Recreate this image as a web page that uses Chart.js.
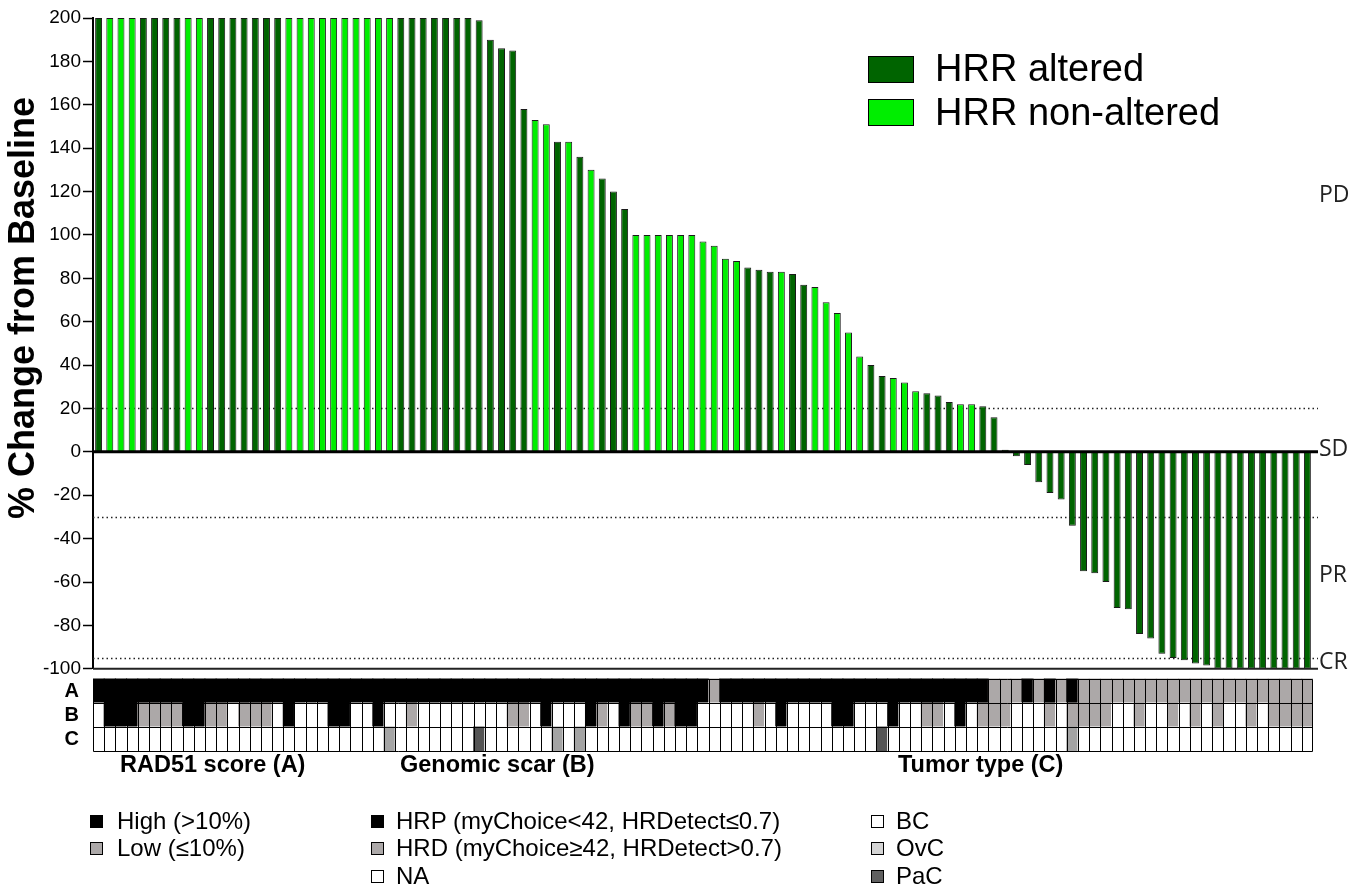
<!DOCTYPE html>
<html>
<head>
<meta charset="utf-8">
<title>Best response waterfall</title>
<script src="https://cdn.jsdelivr.net/npm/chart.js@4.4.1/dist/chart.umd.min.js"></script>
<style>
  html, body { margin: 0; padding: 0; background: #fff; }
  #wrap { position: relative; width: 1366px; height: 896px; overflow: hidden;
          font-family: "Liberation Sans", Arial, sans-serif; color: #000; }
  #chart { position: absolute; left: 0; top: 0; }
  .abs { position: absolute; white-space: nowrap; }
  .big { font-size: 38px; line-height: 40px; }
  .sw-big { position: absolute; width: 44px; height: 25px; border: 1px solid #000; }
  .head { font-size: 23.5px; line-height: 26px; font-weight: bold; }
  .item { font-size: 24px; line-height: 26px; }
  .sw { position: absolute; width: 11px; height: 11px; border: 1px solid #000; }
</style>
</head>
<body>
<div id="wrap">
  <canvas id="chart" width="1366" height="896"></canvas>

  <!-- series legend -->
  <div class="sw-big" style="left:868px;top:56px;background:#006400"></div>
  <div class="abs big" style="left:935px;top:48px">HRR altered</div>
  <div class="sw-big" style="left:868px;top:99px;background:#00ee00"></div>
  <div class="abs big" style="left:935px;top:92px">HRR non-altered</div>

  <!-- annotation track legends -->
  <div class="abs head" style="left:120px;top:751px">RAD51 score (A)</div>
  <div class="sw" style="left:90px;top:815px;background:#000"></div>
  <div class="abs item" style="left:117px;top:808px">High (&gt;10%)</div>
  <div class="sw" style="left:90px;top:842px;background:#aca8a8"></div>
  <div class="abs item" style="left:117px;top:835px">Low (≤10%)</div>

  <div class="abs head" style="left:400px;top:751px">Genomic scar (B)</div>
  <div class="sw" style="left:371px;top:815px;background:#000"></div>
  <div class="abs item" style="left:396px;top:808px">HRP (myChoice&lt;42, HRDetect≤0.7)</div>
  <div class="sw" style="left:371px;top:842px;background:#aca8a8"></div>
  <div class="abs item" style="left:396px;top:835px">HRD (myChoice≥42, HRDetect&gt;0.7)</div>
  <div class="sw" style="left:371px;top:870px;background:#fff"></div>
  <div class="abs item" style="left:396px;top:863px">NA</div>

  <div class="abs head" style="left:898px;top:751px">Tumor type (C)</div>
  <div class="sw" style="left:871px;top:815px;background:#fff"></div>
  <div class="abs item" style="left:896px;top:808px">BC</div>
  <div class="sw" style="left:871px;top:842px;background:#d4d4d4"></div>
  <div class="abs item" style="left:896px;top:835px">OvC</div>
  <div class="sw" style="left:871px;top:870px;background:#606060"></div>
  <div class="abs item" style="left:896px;top:863px">PaC</div>
</div>

<script>
// Best % change from baseline per patient (values above 200 are capped at 200)
const change = [
  200, 200, 200, 200, 200, 200, 200, 200, 200, 200,
  200, 200, 200, 200, 200, 200, 200, 200, 200, 200,
  200, 200, 200, 200, 200, 200, 200, 200, 200, 200,
  200, 200, 200, 200, 199, 190, 186, 185, 158, 153,
  151, 143, 143, 136, 130, 126, 120, 112, 100, 100,
  100, 100, 100, 100, 97, 95, 89, 88, 85, 84,
  83, 83, 82, 77, 76, 69, 64, 55, 44, 40,
  35, 34, 32, 28, 27, 26, 23, 22, 22, 21,
  16, 1, -2, -6, -14, -19, -22, -34, -55, -56,
  -60, -72, -72.5, -84, -86, -93, -95, -96, -97.5, -98.5,
  -100, -100, -100, -100, -100, -100, -100, -100, -100
];

// HRR status per patient: 1 = altered, 0 = non-altered
const hrrAltered = [
  1, 0, 0, 0, 1, 1, 1, 1, 0, 0,
  1, 1, 1, 1, 1, 1, 1, 0, 0, 0,
  0, 0, 0, 0, 0, 0, 0, 1, 1, 1,
  1, 1, 1, 1, 1, 1, 1, 1, 1, 0,
  0, 1, 0, 1, 0, 1, 1, 1, 0, 0,
  0, 0, 0, 0, 0, 0, 0, 0, 1, 1,
  1, 0, 1, 1, 0, 0, 0, 0, 0, 1,
  1, 0, 0, 0, 1, 1, 1, 0, 0, 1,
  1, 1, 1, 1, 1, 1, 1, 1, 1, 1,
  1, 1, 1, 1, 1, 1, 1, 1, 1, 1,
  1, 1, 1, 1, 1, 1, 1, 1, 1
];

// Track A: RAD51 score (H = high >10%, L = low <=10%)
const rad51 = [
  'H','H','H','H','H','H','H','H','H','H',
  'H','H','H','H','H','H','H','H','H','H',
  'H','H','H','H','H','H','H','H','H','H',
  'H','H','H','H','H','H','H','H','H','H',
  'H','H','H','H','H','H','H','H','H','H',
  'H','H','H','H','H','L','H','H','H','H',
  'H','H','H','H','H','H','H','H','H','H',
  'H','H','H','H','H','H','H','H','H','H',
  'L','L','L','H','L','H','L','H','L','L',
  'L','L','L','L','L','L','L','L','L','L',
  'L','L','L','L','L','L','L','L','L'
];

// Track B: genomic scar (P = HRP, D = HRD, N = not available)
const scar = [
  'N','P','P','P','D','D','D','D','P','P',
  'D','D','N','D','D','D','N','P','N','N',
  'N','P','P','N','N','P','N','N','D','N',
  'N','N','N','N','N','N','N','D','D','N',
  'P','N','N','N','P','D','N','P','D','D',
  'P','D','P','P','N','N','N','N','N','D',
  'N','P','N','N','N','N','P','P','N','N',
  'N','P','N','N','D','D','N','P','N','D',
  'D','D','N','N','N','D','N','D','D','D',
  'D','N','N','D','N','N','D','N','D','N',
  'D','N','N','D','N','D','D','D','D'
];

// Track C: tumor type
const tumor = [
  'BC','BC','BC','BC','BC','BC','BC','BC','BC','BC',
  'BC','BC','BC','BC','BC','BC','BC','BC','BC','BC',
  'BC','BC','BC','BC','BC','BC','OvC','BC','BC','BC',
  'BC','BC','BC','BC','PaC','BC','BC','BC','BC','BC',
  'BC','OvC','BC','OvC','BC','BC','BC','BC','BC','BC',
  'BC','BC','BC','BC','BC','BC','BC','BC','BC','BC',
  'BC','BC','BC','BC','BC','BC','BC','BC','BC','BC',
  'PaC','BC','BC','BC','BC','BC','BC','BC','BC','BC',
  'BC','BC','BC','BC','BC','BC','BC','OvC','BC','BC',
  'BC','BC','BC','BC','BC','BC','BC','BC','BC','BC',
  'BC','BC','BC','BC','BC','BC','BC','BC','BC'
];

// Response category thresholds (dotted lines) and their labels on the right
const thresholds = [20, -30, -95];
const responseLabels = ['PD', 'SD', 'PR', 'CR'];
const responseLabelValues = [118, 1, -57, -97];

const yTicks = { min: -100, max: 200, step: 20 };
const trackNames = ['C', 'B', 'A'];

const FONT = '"Liberation Sans", Arial, sans-serif';
const DARK = '#006400';
const LIGHT = '#00ee00';

const patients = change.map((_, i) => i + 1);

const trackDefs = [
  { codes: tumor, level: 0, colors: { BC: '#ffffff', OvC: '#a4a4a4', PaC: '#555555' } },
  { codes: scar,  level: 1, colors: { P: '#000000', D: '#aca8a8', N: '#ffffff' } },
  { codes: rad51, level: 2, colors: { H: '#000000', L: '#aca8a8' } }
];

// Annotation cells: filled without outlines; the cell grid is stroked afterwards
const trackDatasets = trackDefs.map(t => ({
  type: 'bar',
  yAxisID: 'yg',
  data: t.codes.map(() => [t.level, t.level + 1]),
  backgroundColor: t.codes.map(c => t.colors[c]),
  borderWidth: 0,
  inflateAmount: 0.5,
  barPercentage: 1,
  categoryPercentage: 1,
  grouped: false
}));

const barDataset = (label, flag, color) => ({
  type: 'bar',
  label,
  yAxisID: 'y',
  data: change.map((v, i) => hrrAltered[i] === flag ? v : null),
  backgroundColor: color,
  borderColor: '#1a1a1a',
  borderWidth: 1,
  barPercentage: 0.62,
  categoryPercentage: 1,
  grouped: false
});

const crisp = v => Math.round(v) + 0.5;

const decorations = {
  id: 'decorations',
  beforeDatasetsDraw(chart) {
    const { ctx, chartArea } = chart;
    const y = chart.scales.y;
    ctx.save();
    ctx.strokeStyle = '#222';
    ctx.lineWidth = 1.4;
    ctx.setLineDash([1.5, 3]);
    thresholds.forEach(t => {
      const py = crisp(y.getPixelForValue(t));
      ctx.beginPath();
      ctx.moveTo(chartArea.left, py);
      ctx.lineTo(chartArea.right + 5, py);
      ctx.stroke();
    });
    ctx.restore();
  },
  afterDatasetsDraw(chart) {
    const { ctx, chartArea } = chart;
    const y = chart.scales.y;
    const x = chart.scales.x;
    const yg = chart.scales.yg;
    ctx.save();

    // cell grid of the annotation tracks
    const n = patients.length;
    const half = (x.getPixelForValue(1) - x.getPixelForValue(0)) / 2;
    const gTop = crisp(yg.getPixelForValue(trackNames.length));
    const gBottom = crisp(yg.getPixelForValue(0));
    ctx.strokeStyle = '#000';
    ctx.lineWidth = 1;
    ctx.beginPath();
    for (let i = 0; i <= n; i++) {
      const px = i < n ? x.getPixelForValue(i) - half : x.getPixelForValue(n - 1) + half;
      const cx = Math.min(crisp(px), Math.ceil(chartArea.right) - 0.5);
      ctx.moveTo(cx, gTop);
      ctx.lineTo(cx, gBottom);
    }
    const gLeft = crisp(x.getPixelForValue(0) - half);
    const gRight = Math.ceil(chartArea.right) - 0.5;
    for (let r = 0; r <= trackNames.length; r++) {
      const py = crisp(yg.getPixelForValue(r));
      ctx.moveTo(gLeft, py);
      ctx.lineTo(gRight, py);
    }
    ctx.stroke();

    // baseline at 0
    let py = y.getPixelForValue(0);
    ctx.strokeStyle = '#000';
    ctx.lineWidth = 3;
    ctx.beginPath();
    ctx.moveTo(chartArea.left, py);
    ctx.lineTo(chartArea.right + 5, py);
    ctx.stroke();
    // bottom line at the axis minimum
    py = y.getPixelForValue(yTicks.min);
    ctx.strokeStyle = '#222';
    ctx.lineWidth = 2;
    ctx.beginPath();
    ctx.moveTo(chartArea.left, py);
    ctx.lineTo(chartArea.right + 5, py);
    ctx.stroke();

    // response category labels
    ctx.fillStyle = '#222';
    ctx.font = '23px "Open Sans", "Noto Sans", sans-serif';
    ctx.textAlign = 'left';
    ctx.textBaseline = 'middle';
    responseLabels.forEach((lbl, i) => {
      ctx.fillText(lbl, chartArea.right + 6, y.getPixelForValue(responseLabelValues[i]));
    });

    // y-axis title
    ctx.translate(24, 308);
    ctx.rotate(-Math.PI / 2);
    ctx.fillStyle = '#000';
    ctx.font = 'bold 36px ' + FONT;
    ctx.textAlign = 'center';
    ctx.textBaseline = 'middle';
    ctx.fillText('% Change from Baseline', 0, 0);
    ctx.restore();
  }
};

Chart.defaults.font.family = FONT;
Chart.defaults.color = '#000';

new Chart(document.getElementById('chart'), {
  type: 'bar',
  data: {
    labels: patients,
    datasets: [
      barDataset('HRR altered', 1, DARK),
      barDataset('HRR non-altered', 0, LIGHT),
      ...trackDatasets
    ]
  },
  options: {
    responsive: false,
    animation: false,
    events: [],
    layout: { padding: { top: 17, right: 53, bottom: 145, left: 0 } },
    plugins: { legend: { display: false }, tooltip: { enabled: false } },
    scales: {
      x: { type: 'category', display: false, offset: true },
      y: {
        type: 'linear', position: 'left', stack: 'panel', stackWeight: 651.7, weight: 1,
        min: yTicks.min, max: yTicks.max,
        ticks: { stepSize: yTicks.step, autoSkip: false, font: { size: 19 }, color: '#000', padding: 2 },
        grid: { drawOnChartArea: false, tickLength: 10, tickColor: '#000', tickWidth: 1.5 },
        border: { color: '#000', width: 2 },
        afterFit: s => { s.width = 93; }
      },
      yg: {
        type: 'linear', position: 'left', stack: 'panel', stackWeight: 82.3, weight: 0,
        min: 0, max: 3.43,
        grid: { display: false },
        border: { display: false },
        ticks: {
          autoSkip: false,
          font: { size: 20, weight: 'bold' }, color: '#000', padding: 6,
          callback: v => trackNames[Math.floor(v)]
        },
        afterBuildTicks: s => { s.ticks = trackNames.map((_, i) => ({ value: i + 0.5 })); },
        afterFit: s => { s.width = 93; }
      }
    }
  },
  plugins: [decorations]
});
</script>
</body>
</html>
